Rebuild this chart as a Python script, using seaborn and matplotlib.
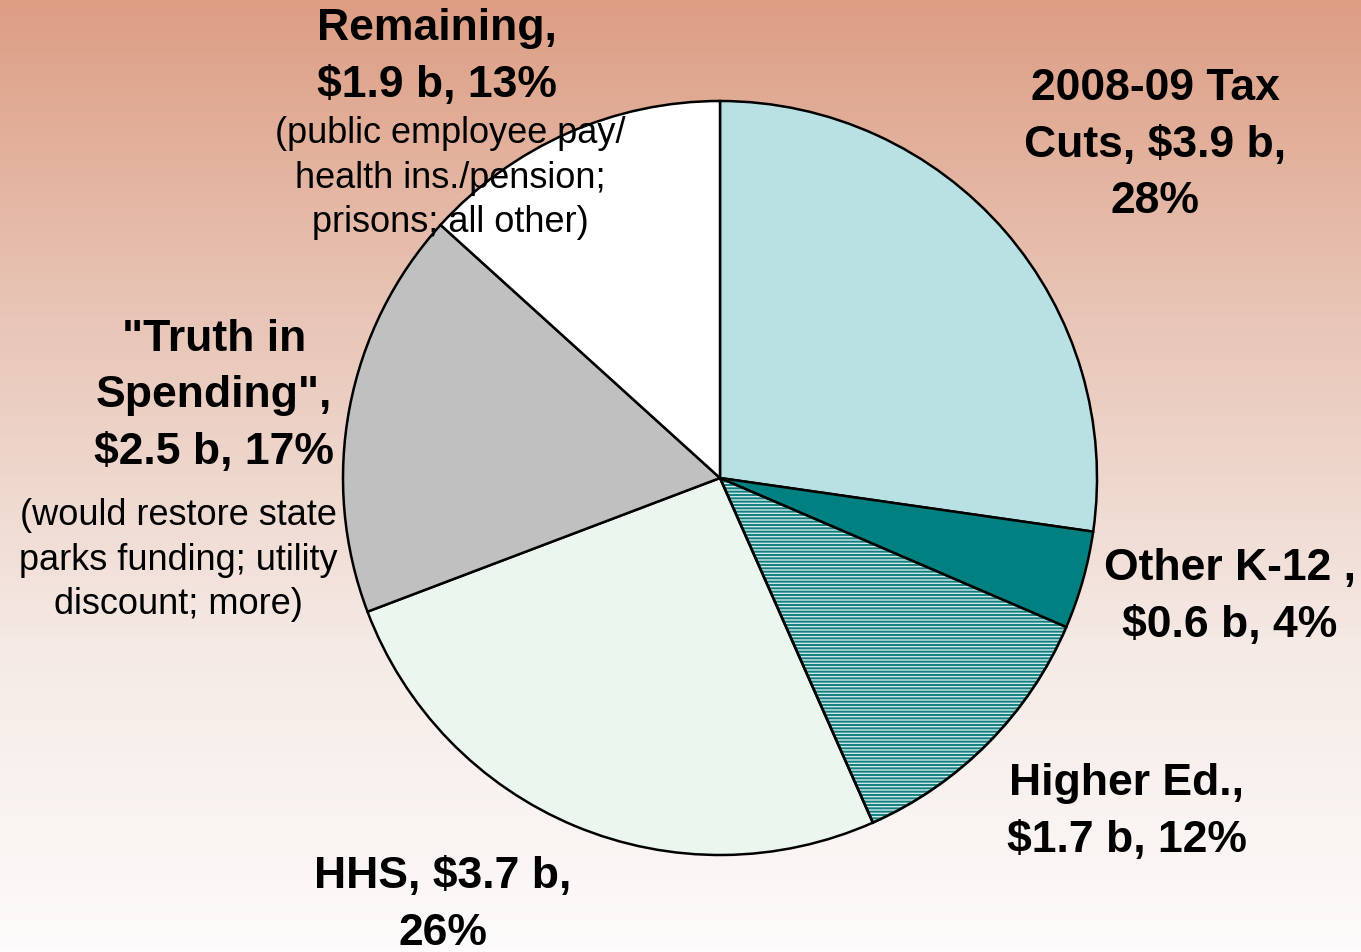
import numpy as np
import matplotlib
matplotlib.use('Agg')
import matplotlib.pyplot as plt
from matplotlib.colors import LinearSegmentedColormap
from matplotlib.patches import Wedge
import seaborn as sns

# ── Data ─────────────────────────────────────────────────────────────────────
categories = ['2008-09 Tax Cuts', 'Other K-12', 'Higher Ed.', 'HHS',
              '"Truth in Spending"', 'Remaining']
amounts_b = [3.9, 0.6, 1.7, 3.7, 2.5, 1.9]
shares_pct = [28, 4, 12, 26, 17, 13]

label_text = [
    '2008-09 Tax\nCuts, $3.9 b,\n28%',
    'Other K-12 ,\n$0.6 b, 4%',
    'Higher Ed.,\n$1.7 b, 12%',
    'HHS, $3.7 b,\n26%',
    '"Truth in\nSpending",\n$2.5 b, 17%',
    'Remaining,\n$1.9 b, 13%',
]
notes = {
    'Remaining': '(public employee pay/\nhealth ins./pension;\nprisons; all other)',
    '"Truth in Spending"': '(would restore state\nparks funding; utility\ndiscount; more)',
}

# ── Style ────────────────────────────────────────────────────────────────────
sns.set_theme(style='white')
plt.rcParams['font.family'] = ['Liberation Sans', 'DejaVu Sans']
plt.rcParams['hatch.linewidth'] = 1.4

W, H = 1361, 952
slice_colors = ['#b9e0e3', '#008080', '#cfe7e7', '#ebf6ee', '#c0c0c0', '#ffffff']

fig = plt.figure(figsize=(W / 100, H / 100), dpi=100)
ax = fig.add_axes([0, 0, 1, 1])

# background gradient (salmon at top fading to white)
bg = LinearSegmentedColormap.from_list('bg', [
    (0.0, (221/255, 158/255, 132/255)),
    (0.32, (232/255, 196/255, 181/255)),
    (0.68, (245/255, 234/255, 229/255)),
    (1.0, (253/255, 251/255, 251/255)),
])
grad = np.linspace(0, 1, 256).reshape(-1, 1)
ax.imshow(grad, cmap=bg, extent=[0, W, 0, H], aspect='auto', zorder=0, vmin=0, vmax=1)

# ── Pie ──────────────────────────────────────────────────────────────────────
cx, cy, r = 720, H - 478, 377
wedges, _ = ax.pie(amounts_b, colors=slice_colors, startangle=90, counterclock=False,
                   center=(cx, cy), radius=r,
                   wedgeprops={'edgecolor': 'black', 'linewidth': 1.8, 'zorder': 2})

# Higher Ed. gets fine teal horizontal lines
he = wedges[2]
he.set_edgecolor('#128080')
he.set_hatch('-----')
ax.add_patch(Wedge((cx, cy), r, he.theta1, he.theta2, fill=False,
                   edgecolor='black', linewidth=1.8, zorder=3))

ax.set_xlim(0, W)
ax.set_ylim(0, H)
ax.set_aspect('auto')
ax.axis('off')

# ── Labels ───────────────────────────────────────────────────────────────────
label_pos = [(1155, 145), (1230, 597), (1127, 812), (443, 905), (214, 396), (437, 57)]
for txt, (x, y) in zip(label_text, label_pos):
    ax.text(x, H - y, txt, ha='center', va='center', multialignment='center',
            fontsize=32, fontweight='bold', color='black', linespacing=1.49, zorder=5)

note_pos = {'Remaining': (450, 178), '"Truth in Spending"': (178, 560)}
for key, txt in notes.items():
    x, y = note_pos[key]
    ax.text(x, H - y, txt, ha='center', va='center', multialignment='center',
            fontsize=26, color='black', linespacing=1.35, zorder=5)

fig.savefig('out.png', dpi=100)
plt.close(fig)
